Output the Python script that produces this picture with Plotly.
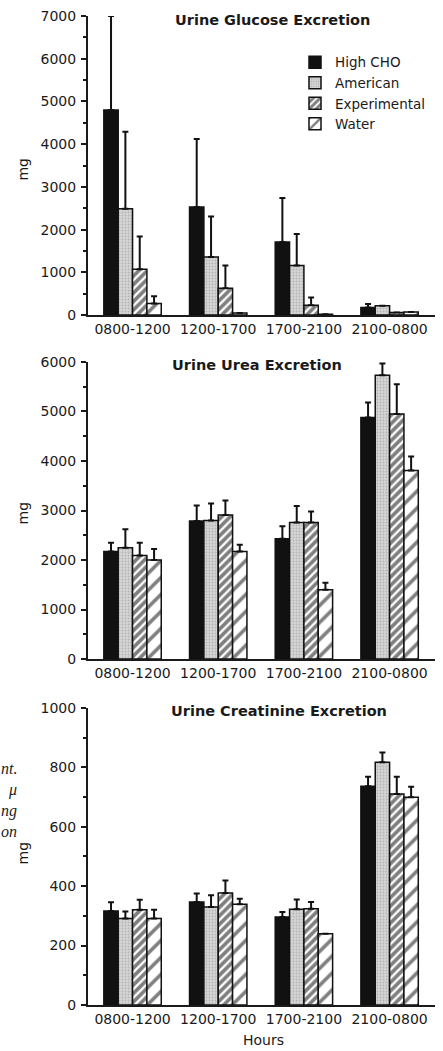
import plotly.graph_objects as go

categories = ["0800-1200", "1200-1700", "1700-2100", "2100-0800"]
series_names = ["High CHO", "American", "Experimental", "Water"]

glucose_high_cho = [4800, 2530, 1710, 180]
glucose_american = [2490, 1360, 1160, 220]
glucose_experimental = [1070, 630, 230, 60]
glucose_water = [270, 50, 20, 70]
glucose_high_cho_sd = [2200, 1590, 1030, 80]
glucose_american_sd = [1800, 950, 740, 0]
glucose_experimental_sd = [770, 530, 180, 0]
glucose_water_sd = [170, 0, 0, 0]

urea_high_cho = [2170, 2790, 2430, 4880]
urea_american = [2250, 2800, 2760, 5730]
urea_experimental = [2090, 2910, 2760, 4950]
urea_water = [2000, 2170, 1400, 3810]
urea_high_cho_sd = [180, 310, 250, 300]
urea_american_sd = [370, 340, 330, 240]
urea_experimental_sd = [260, 290, 220, 600]
urea_water_sd = [220, 140, 140, 280]

creat_high_cho = [316, 347, 296, 736]
creat_american = [291, 330, 322, 817]
creat_experimental = [321, 377, 324, 710]
creat_water = [291, 339, 240, 699]
creat_high_cho_sd = [30, 28, 17, 32]
creat_american_sd = [24, 39, 33, 33]
creat_experimental_sd = [33, 42, 23, 58]
creat_water_sd = [30, 19, 0, 36]

panel_titles = ["Urine Glucose Excretion", "Urine Urea Excretion", "Urine Creatinine Excretion"]
side_text = ["nt.", "μ", "ng", "on"]

FONT = "DejaVu Sans"
INK = "#1a1a1a"

styles = [
    dict(color="#111111", pattern=dict(shape="")),
    dict(color="#d6d6d6", pattern=dict(shape=".", fgcolor="#8f8f8f", bgcolor="#d6d6d6", size=3, solidity=0.3)),
    dict(color="white", pattern=dict(shape="/", fgcolor="#000000", bgcolor="white", size=6, solidity=0.62)),
    dict(color="white", pattern=dict(shape="/", fgcolor="#000000", bgcolor="white", size=12, solidity=0.3)),
]

panels = [
    ([glucose_high_cho, glucose_american, glucose_experimental, glucose_water],
     [glucose_high_cho_sd, glucose_american_sd, glucose_experimental_sd, glucose_water_sd]),
    ([urea_high_cho, urea_american, urea_experimental, urea_water],
     [urea_high_cho_sd, urea_american_sd, urea_experimental_sd, urea_water_sd]),
    ([creat_high_cho, creat_american, creat_experimental, creat_water],
     [creat_high_cho_sd, creat_american_sd, creat_experimental_sd, creat_water_sd]),
]

fig = go.Figure()
for p, (means, sds) in enumerate(panels):
    xa = "x" if p == 0 else f"x{p+1}"
    ya = "y" if p == 0 else f"y{p+1}"
    for s, name in enumerate(series_names):
        st = styles[s]
        fig.add_trace(go.Bar(
            x=categories, y=means[s], name=name,
            xaxis=xa, yaxis=ya,
            legendgroup=name, showlegend=(p == 0),
            marker=dict(color=st["color"], pattern=st["pattern"],
                        line=dict(color="#111111", width=1.5)),
            error_y=dict(type="data", array=sds[s], arrayminus=[0] * len(sds[s]),
                         symmetric=False, color="#111111", thickness=2, width=3),
        ))

W, H = 443, 1051
ml, mr, mt, mb = 88, 8, 13, 46
ph = H - mt - mb
pw = W - ml - mr

def py(pix):
    return (H - mb - pix) / ph

def px(pix):
    return (pix - ml) / pw

ydomains = [[py(313), py(13)], [py(658), py(360)], [py(1005), py(707)]]
yranges = [[0, 7000], [0, 6000], [0, 1000]]
ydticks = [1000, 1000, 200]

layout = dict(
    width=W, height=H,
    margin=dict(l=ml, r=mr, t=mt, b=mb),
    paper_bgcolor="white", plot_bgcolor="white",
    barmode="group", bargap=0.33, bargroupgap=0,
    font=dict(family=FONT, size=14, color=INK),
    showlegend=True,
    legend=dict(x=px(295), y=py(44), xanchor="left", yanchor="top",
                bgcolor="rgba(0,0,0,0)", font=dict(size=13.5, color=INK),
                tracegroupgap=0, itemwidth=30),
)
for p in range(3):
    xk = "xaxis" if p == 0 else f"xaxis{p+1}"
    yk = "yaxis" if p == 0 else f"yaxis{p+1}"
    yanchor = "y" if p == 0 else f"y{p+1}"
    xanchor = "x" if p == 0 else f"x{p+1}"
    layout[xk] = dict(domain=[0, 1], anchor=yanchor, range=[-0.52, 3.53],
                      showline=True, linecolor=INK, linewidth=2, ticks="",
                      showgrid=False, zeroline=False, ticklabelstandoff=0,
                      tickfont=dict(size=14, color=INK))
    layout[yk] = dict(domain=ydomains[p], anchor=xanchor, range=yranges[p],
                      showline=True, linecolor=INK, linewidth=2,
                      ticks="outside", ticklen=5, tickwidth=1.5, tickcolor=INK,
                      dtick=ydticks[p], tick0=0,
                      minor=dict(ticks="outside", ticklen=3, tickwidth=1.5, tickcolor=INK,
                                 dtick=ydticks[p] / 2, showgrid=False),
                      showgrid=False, zeroline=False, ticklabelstandoff=2,
                      tickfont=dict(size=14, color=INK))
fig.update_layout(**layout)

title_pos = [(272, 17), (257, 363), (279, 710)]
for (tx, ty), t in zip(title_pos, panel_titles):
    fig.add_annotation(text=f"<b>{t}</b>", xref="paper", yref="paper",
                       x=px(tx), y=py(ty), xanchor="center", yanchor="middle",
                       showarrow=False, font=dict(size=14.5, color=INK, family=FONT))

for ymid in [167, 512, 853]:
    fig.add_annotation(text="mg", xref="paper", yref="paper",
                       x=px(23), y=py(ymid), xanchor="center", yanchor="middle",
                       textangle=-90, showarrow=False, font=dict(size=14, color=INK))

fig.add_annotation(text="Hours", xref="paper", yref="paper",
                   x=px(263), y=py(1040), xanchor="center", yanchor="middle",
                   showarrow=False, font=dict(size=14, color=INK))

for t, yy in zip(side_text, [768, 789, 810, 831]):
    fig.add_annotation(text=f"<i>{t}</i>", xref="paper", yref="paper",
                       x=px(19), y=py(yy), xanchor="right", yanchor="middle",
                       showarrow=False,
                       font=dict(size=16, color="#222222", family="Liberation Serif"))

fig.write_html("out.html")
